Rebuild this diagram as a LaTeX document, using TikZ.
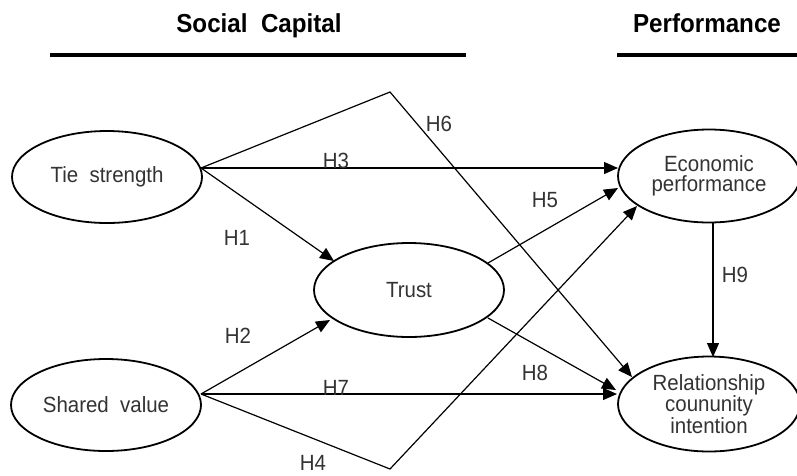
\documentclass[tikz,border=0pt]{standalone}
\usepackage{fontspec}
\setmainfont{Liberation Sans}[FakeStretch=0.93]
\usetikzlibrary{shapes.geometric,arrows.meta}
\definecolor{textgray}{HTML}{333333}
\begin{document}
\begin{tikzpicture}[x=1pt,y=-1pt,
  ell/.style={draw,ellipse,line width=1.8pt,inner sep=0pt,text=textgray,
              font=\fontsize{22}{20.5}\selectfont,align=center},
  conn/.style={line width=1.2pt,-{Triangle[length=14pt,width=12pt]}},
  hlab/.style={text=textgray,font=\fontsize{22}{22}\selectfont,inner sep=0pt,anchor=base},
  titletext/.style={font=\bfseries\fontsize{26}{28}\selectfont,inner sep=0pt,anchor=base},
  rule/.style={line width=3.5pt}]
\useasboundingbox (0,0) rectangle (797,475);

% titles
\node[titletext] (sc) at (259,32) {Social~~Capital};
\node[titletext] (pf) at (707,32) {Performance};
\coordinate (r1a) at (50,55); \coordinate (r1b) at (466,55);
\coordinate (r2a) at (617,55); \coordinate (r2b) at (797,55);
\draw[rule] (r1a) -- (r1b);
\draw[rule] (r2a) -- (r2b);

% nodes
\node[ell,minimum width=190pt,minimum height=92pt] (tie) at (107,177) {Tie~~strength};
\node[ell,minimum width=190pt,minimum height=92pt] (shared) at (106,405) {Shared~~value};
\node[ell,minimum width=190pt,minimum height=94pt] (trust) at (409,290) {Trust};
\node[ell,minimum width=182pt,minimum height=93pt] (econ) at (709,176) {Economic\\performance};
\node[ell,minimum width=182pt,minimum height=95pt] (rel) at (709,404) {Relationship\\coununity\\intention};

% connector end points
\coordinate (tieR) at (201,168);
\coordinate (shR) at (201,394);
\coordinate (apexA) at (390,92);
\coordinate (apexB) at (390,469);
\coordinate (trIn1) at (334,261);
\coordinate (trIn2) at (330,320);
\coordinate (trOut5) at (488,263);
\coordinate (trOut8) at (488,318);
\coordinate (ecIn3) at (618,168);
\coordinate (ecIn5) at (618,188);
\coordinate (ecIn4) at (637,206);
\coordinate (ecOut9) at (713,222);
\coordinate (reIn9) at (713,357);
\coordinate (reIn6) at (632,377);
\coordinate (reIn8) at (616,390);
\coordinate (reIn7) at (617,394);

% connectors
\draw[conn] (tieR) -- (trIn1);
\draw[conn] (shR) -- (trIn2);
\draw[conn] (tieR) -- (ecIn3);
\draw[conn] (shR) -- (reIn7);
\draw[conn] (trOut5) -- (ecIn5);
\draw[conn] (trOut8) -- (reIn8);
\draw[conn] (tieR) -- (apexA) -- (reIn6);
\draw[conn] (shR) -- (apexB) -- (ecIn4);
\draw[conn] (ecOut9) -- (reIn9);

% labels
\node[hlab] (h1) at (237,245) {H1};
\node[hlab] (h2) at (238,343) {H2};
\node[hlab] (h3) at (336,168) {H3};
\node[hlab] (h4) at (313,470) {H4};
\node[hlab] (h5) at (545,207) {H5};
\node[hlab] (h6) at (439,131) {H6};
\node[hlab] (h7) at (336,395) {H7};
\node[hlab] (h8) at (535,380) {H8};
\node[hlab] (h9) at (735,282) {H9};
\end{tikzpicture}
\end{document}
